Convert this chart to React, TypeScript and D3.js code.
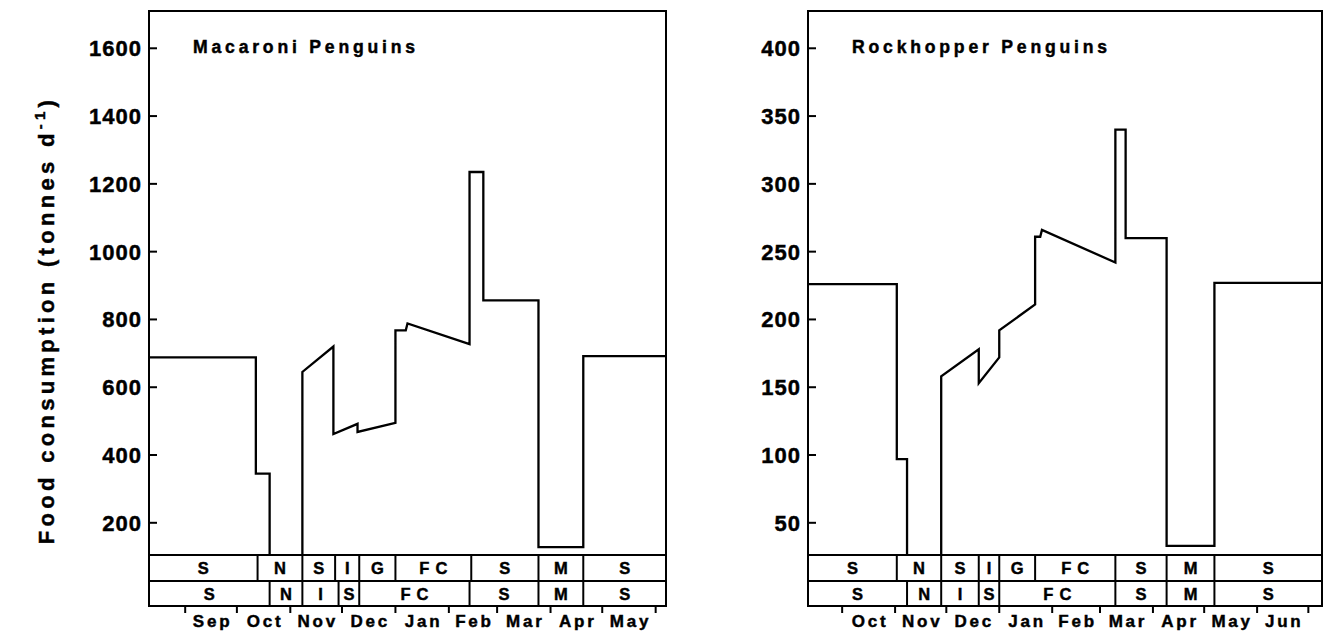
import React from "react";
import * as d3 from "d3";

const FONT = "'Liberation Sans', Arial, Helvetica, sans-serif";

// ---- Macaroni Penguins ----
const macDates = [
  "2001-08-11", "2001-10-12", "2001-10-12", "2001-10-20", "2001-10-20", "2001-11-08",
  "2001-11-08", "2001-11-26", "2001-11-26", "2001-12-10", "2001-12-10", "2002-01-01",
  "2002-01-01", "2002-01-07", "2002-01-08", "2002-02-13", "2002-02-13", "2002-02-21",
  "2002-02-21", "2002-03-25", "2002-03-25", "2002-04-20", "2002-04-20", "2002-06-07",
];
const macValues = [
  688, 688, 345, 345, 0, 0,
  645, 720, 462, 492, 468, 495,
  768, 768, 788, 727, 1235, 1235,
  856, 856, 128, 128, 692, 692,
];
const macTicks = [200, 400, 600, 800, 1000, 1200, 1400, 1600];
const macYDomain = [105, 1710];
const macRow1Labels = ["S", "N", "S", "I", "G", "FC", "S", "M", "S"];
const macRow1Breaks = ["2001-10-13", "2001-11-08", "2001-11-27", "2001-12-11", "2002-01-01", "2002-02-14", "2002-03-25", "2002-04-20"];
const macRow2Labels = ["S", "N", "I", "S", "FC", "S", "M", "S"];
const macRow2Breaks = ["2001-10-20", "2001-11-08", "2001-11-29", "2001-12-11", "2002-02-13", "2002-03-25", "2002-04-20"];

// ---- Rockhopper Penguins ----
const rockDates = [
  "2001-09-11", "2001-11-02", "2001-11-02", "2001-11-08", "2001-11-08", "2001-11-28",
  "2001-11-28", "2001-12-20", "2001-12-20", "2002-01-01", "2002-01-01", "2002-01-22",
  "2002-01-22", "2002-01-25", "2002-01-26", "2002-03-10", "2002-03-10", "2002-03-16",
  "2002-03-16", "2002-04-09", "2002-04-09", "2002-05-07", "2002-05-07", "2002-07-09",
];
const rockValues = [
  226, 226, 97, 97, 0, 0,
  158, 178, 153, 172, 192, 211,
  261, 261, 266, 242, 340, 340,
  260, 260, 33, 33, 227, 227,
];
const rockTicks = [50, 100, 150, 200, 250, 300, 350, 400];
const rockYDomain = [26.25, 427.5];
const rockRow1Labels = ["S", "N", "S", "I", "G", "FC", "S", "M", "S"];
const rockRow1Breaks = ["2001-11-02", "2001-11-28", "2001-12-20", "2002-01-01", "2002-01-22", "2002-03-10", "2002-04-09", "2002-05-07"];
const rockRow2Labels = ["S", "N", "I", "S", "FC", "S", "M", "S"];
const rockRow2Breaks = ["2001-11-08", "2001-11-28", "2001-12-20", "2002-01-01", "2002-03-10", "2002-04-09", "2002-05-07"];

const TOP = 11;
const PLOT_BOTTOM = 555;
const BAND_MID = 581;
const BAND_BOTTOM = 606;
const SW = 2;
const TXT = { fontFamily: FONT, fontWeight: "bold" as const, stroke: "#000", strokeWidth: 0.45 };

const parse = d3.utcParse("%Y-%m-%d");
const fmtMonth = d3.utcFormat("%b");

type PanelProps = {
  x0: number; x1: number; dates: string[]; values: number[]; yDomain: number[];
  ticks: number[]; title: string;
  row1Labels: string[]; row1Breaks: string[]; row2Labels: string[]; row2Breaks: string[];
};

function BandRow({ x, labels, breaks, top, bottom }: any) {
  const [d0, d1] = x.domain();
  const bounds = [d0, ...breaks.map(parse), d1];
  const baseline = (top + bottom) / 2 + 6;
  return (
    <g>
      {breaks.map((b: string, i: number) => (
        <line key={"d" + i} x1={x(parse(b))} x2={x(parse(b))} y1={top} y2={bottom} stroke="#000" strokeWidth={SW} />
      ))}
      {labels.map((l: string, i: number) => (
        <text key={"t" + i} x={(x(bounds[i]) + x(bounds[i + 1])) / 2 + (l.length > 1 ? 3 : 0)} y={baseline}
          textAnchor="middle" {...TXT} fontSize={16.5}
          letterSpacing={l.length > 1 ? 6 : 0}>{l}</text>
      ))}
    </g>
  );
}

function Panel(p: PanelProps) {
  const ds = p.dates.map(parse) as Date[];
  const x = d3.scaleUtc().domain(d3.extent(ds) as [Date, Date]).range([p.x0, p.x1]);
  const y = d3.scaleLinear().domain(p.yDomain).range([PLOT_BOTTOM, TOP]).clamp(true);
  const pts: [Date, number][] = ds.map((d, i) => [d, p.values[i]]);
  // split the series where it rests at zero (no line drawn along the axis floor)
  const segs: [Date, number][][] = [];
  let cur: [Date, number][] = [pts[0]];
  for (let i = 1; i < pts.length; i++) {
    if (pts[i - 1][1] === 0 && pts[i][1] === 0) {
      segs.push(cur);
      cur = [pts[i]];
    } else cur.push(pts[i]);
  }
  segs.push(cur);
  const lineGen = d3.line<[Date, number]>().x((d) => x(d[0])).y((d) => y(d[1]));
  const [dStart, dEnd] = x.domain();
  const months = d3.utcMonth.range(d3.utcMonth.ceil(dStart), dEnd);
  return (
    <g>
      {segs.map((s, i) => (
        <path key={"s" + i} d={lineGen(s) || ""} fill="none" stroke="#000" strokeWidth={2.3} strokeLinejoin="miter" />
      ))}
      <rect x={p.x0} y={TOP} width={p.x1 - p.x0} height={BAND_BOTTOM - TOP} fill="none" stroke="#000" strokeWidth={SW} />
      <line x1={p.x0} x2={p.x1} y1={PLOT_BOTTOM} y2={PLOT_BOTTOM} stroke="#000" strokeWidth={SW} />
      <line x1={p.x0} x2={p.x1} y1={BAND_MID} y2={BAND_MID} stroke="#000" strokeWidth={SW} />
      {p.ticks.map((t) => (
        <g key={t}>
          <line x1={p.x0} x2={p.x0 + 8} y1={y(t)} y2={y(t)} stroke="#000" strokeWidth={SW} />
          <text x={p.x0 - 7} y={y(t)} dy="0.36em" textAnchor="end" {...TXT}
            fontSize={22} letterSpacing={1}>{t}</text>
        </g>
      ))}
      <text x={p.x0 + 44} y={53} {...TXT} fontSize={17.6} letterSpacing={3.8}>{p.title}</text>
      <BandRow x={x} labels={p.row1Labels} breaks={p.row1Breaks} top={PLOT_BOTTOM} bottom={BAND_MID} />
      <BandRow x={x} labels={p.row2Labels} breaks={p.row2Breaks} top={BAND_MID} bottom={BAND_BOTTOM} />
      {months.map((m, i) => (
        <line key={"m" + i} x1={x(m)} x2={x(m)} y1={BAND_BOTTOM} y2={BAND_BOTTOM + 7} stroke="#000" strokeWidth={SW} />
      ))}
      {months.slice(0, -1).map((m, i) => (
        <text key={"ml" + i} x={(x(m) + x(months[i + 1])) / 2 + 1.5} y={627} textAnchor="middle"
          {...TXT} fontSize={17} letterSpacing={2.8}>{fmtMonth(m)}</text>
      ))}
    </g>
  );
}

export default function App() {
  return (
    <svg width={1333} height={633} viewBox="0 0 1333 633"
      style={{ position: "absolute", left: 0, top: 0, background: "#fff" }}>
      <rect x={0} y={0} width={1333} height={633} fill="#fff" />
      <text transform="translate(54,320) rotate(-90)" textAnchor="middle" {...TXT}
        fontSize={22} letterSpacing={4.3}>
        Food consumption (tonnes d<tspan fontSize={15} dy={-9}>-1</tspan><tspan dy={9}>)</tspan>
      </text>
      <Panel x0={149} x1={666} dates={macDates} values={macValues} yDomain={macYDomain} ticks={macTicks}
        title="Macaroni Penguins" row1Labels={macRow1Labels} row1Breaks={macRow1Breaks}
        row2Labels={macRow2Labels} row2Breaks={macRow2Breaks} />
      <Panel x0={808} x1={1322} dates={rockDates} values={rockValues} yDomain={rockYDomain} ticks={rockTicks}
        title="Rockhopper Penguins" row1Labels={rockRow1Labels} row1Breaks={rockRow1Breaks}
        row2Labels={rockRow2Labels} row2Breaks={rockRow2Breaks} />
    </svg>
  );
}
